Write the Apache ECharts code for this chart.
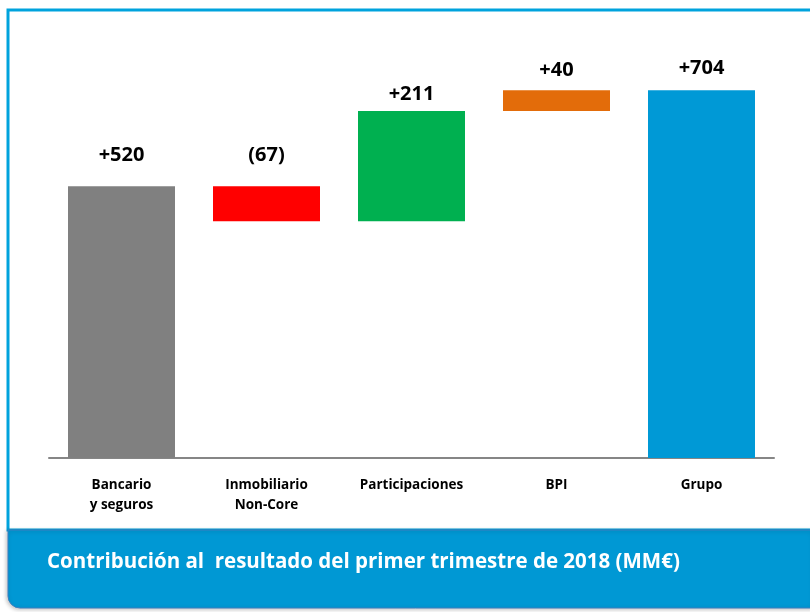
<!DOCTYPE html>
<html>
<head>
<meta charset="utf-8">
<script src="https://cdn.jsdelivr.net/npm/echarts@6/dist/echarts.min.js"></script>
<style>
  html, body { margin: 0; padding: 0; background: #fff; }
  #chart { width: 810px; height: 612px; }
</style>
</head>
<body>
<div id="chart"></div>
<script>
// datos (MM€)
var categories = ['Bancario\ny seguros', 'Inmobiliario\nNon-Core', 'Participaciones', 'BPI', 'Grupo'];
var deltas = [520, -67, 211, 40];
var totalValue = 704;
var barColors = ['#808080', '#ff0000', '#00b050', '#e36c0a', '#0099d6'];
var labelGap = [21, 21, 7, 10, 12];
var titleText = 'Contribución al  resultado del primer trimestre de 2018 (MM€)';

var chart = echarts.init(document.getElementById('chart'));

// bases invisibles y alturas de la cascada
var base = [], height = [], labels = [];
var running = 0;
deltas.forEach(function (d, i) {
    var next = running + d;
    base.push(Math.min(running, next));
    height.push(Math.abs(d));
    labels.push(d < 0 ? '(' + Math.abs(d) + ')' : '+' + d);
    running = next;
});
base.push(0);
height.push(totalValue);
labels.push('+' + totalValue);

var visible = height.map(function (h, i) {
    return {
        value: h,
        itemStyle: { color: barColors[i] },
        label: { distance: labelGap[i] }
    };
});

var option = {
    animation: false,
    grid: { left: 49, right: 36, top: 40, bottom: 154 },
    xAxis: {
        type: 'category',
        data: categories,
        axisLine: { lineStyle: { color: '#868686', width: 2 } },
        axisTick: { show: false },
        axisLabel: {
            color: '#000',
            fontFamily: 'Open Sans',
            fontWeight: 'bold',
            fontSize: 13.5,
            lineHeight: 20,
            margin: 17,
            interval: 0
        }
    },
    yAxis: {
        type: 'value',
        min: 0,
        max: 800,
        show: false
    },
    series: [
        {
            type: 'bar',
            stack: 'w',
            barWidth: 107,
            itemStyle: { color: 'transparent' },
            emphasis: { disabled: true },
            data: base
        },
        {
            type: 'bar',
            stack: 'w',
            barWidth: 107,
            label: {
                show: true,
                position: 'top',
                color: '#000',
                fontFamily: 'Open Sans',
                fontWeight: 'bold',
                fontSize: 20,
                formatter: function (p) { return labels[p.dataIndex]; }
            },
            data: visible
        }
    ],
    graphic: [
        {
            type: 'rect',
            shape: { x: 8, y: 10, width: 810, height: 520 },
            style: { fill: 'none', stroke: '#00a3dd', lineWidth: 3 },
            z: -1
        },
        {
            type: 'rect',
            shape: { x: 8, y: 530, width: 806, height: 78, r: [0, 0, 0, 12] },
            style: {
                fill: '#0098d4',
                stroke: '#3c7fc0',
                lineWidth: 1,
                shadowBlur: 4,
                shadowColor: 'rgba(0,0,0,0.25)',
                shadowOffsetX: -1,
                shadowOffsetY: 1
            },
            z: 1
        },
        {
            type: 'text',
            x: 47,
            y: 562,
            style: {
                text: titleText,
                fill: '#fff',
                font: 'bold 20.5px "Open Sans"',
                verticalAlign: 'middle'
            },
            z: 2
        }
    ]
};

chart.setOption(option);
</script>
</body>
</html>
